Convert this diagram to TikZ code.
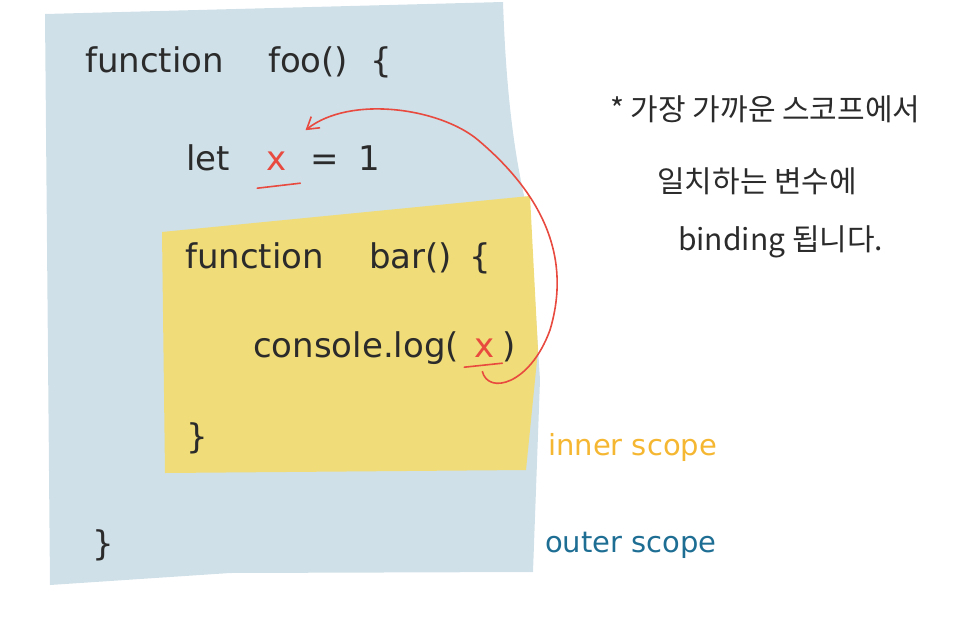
\documentclass[tikz,border=0pt]{standalone}
\usepackage{fontspec}
\setmainfont{DejaVu Sans}
\newfontfamily\krfont{Noto Sans CJK KR}
\usepackage{tikz}
\usetikzlibrary{arrows.meta,positioning,calc}
\definecolor{ink}{HTML}{2B2B2B}
\definecolor{outerbg}{HTML}{CFE0E8}
\definecolor{innerbg}{HTML}{F0DC78}
\definecolor{hl}{HTML}{E84A3F}
\definecolor{innerink}{HTML}{F5B731}
\definecolor{outerink}{HTML}{1E6E94}

\begin{document}
\begin{tikzpicture}[x=1pt, y=-1pt,
  codeline/.style={anchor=base west, inner sep=0pt, text=ink, font=\fontsize{34}{40}\selectfont},
  hlx/.style={codeline, text=hl},
  notekr/.style={anchor=base west, inner sep=0pt, text=ink, font=\krfont\fontsize{30}{34}\selectfont},
  scopelbl/.style={anchor=base west, inner sep=0pt, font=\fontsize{29}{32}\selectfont},
  uline/.style={draw=hl, line width=1.6pt, line cap=round},
  bindarrow/.style={-{Straight Barb[length=4mm, width=5mm]}, draw=hl, line width=1.6pt}
]
\useasboundingbox (0,0) rectangle (962,619);

% scopes
\fill[outerbg] (45,14) -- (503,2) .. controls (506,90) and (514,160) .. (530,220)
  -- (540,380) -- (533,572) -- (230,573) -- (50,585) -- cycle;
\fill[innerbg] (162,232) -- (530,196) -- (538,350) -- (526,470) -- (165,473) -- cycle;

% outer function
\node[codeline] (foodef) at (85,72) {function\hspace{44pt}foo()\hspace{22pt}\{};
\node[codeline] (letkw) at (186,170) {let};
\node[hlx] (xdecl) at (266,170) {x};
\node[codeline] (eqone) at (310,170) {=\hspace{20pt}1};

% inner function
\node[codeline] (bardef) at (185,268) {function\hspace{45pt}bar()\hspace{17pt}\{};
\node[codeline] (logcall) at (253,357) {console.log(};
\node[hlx] (xuse) at (474,357) {x};
\node[codeline] (logclose) at (502,357) {)};
\node[codeline] (barend) at (186,448) {\}};
\node[codeline] (fooend) at (92,555) {\}};

% scope labels
\node[scopelbl, text=innerink] (innerlbl) at (548,455) {inner scope};
\node[scopelbl, text=outerink] (outerlbl) at (545,552) {outer scope};

% note
\node[notekr] (note1) at (610,120) {* 가장 가까운 스코프에서};
\node[notekr] (note2) at (657,192) {일치하는 변수에};
\node[notekr] (note3) at (678,250) {binding 됩니다.};

% underlines and binding arrow
\draw[uline] ($(xdecl.south)+(-19,18)$) -- ($(xdecl.south)+(24,13)$);
\draw[uline] ($(xuse.south)+(-20,10)$) -- ($(xuse.south)+(18,6)$);
\draw[bindarrow] ($(xuse.south)+(-2,14)$) .. controls (488,395) and (530,385) .. (550,330)
  .. controls (568,270) and (555,205) .. (478,140)
  .. controls (440,108) and (350,95) .. ($(xdecl.north east)+(19,-21)$);
\end{tikzpicture}
\end{document}
